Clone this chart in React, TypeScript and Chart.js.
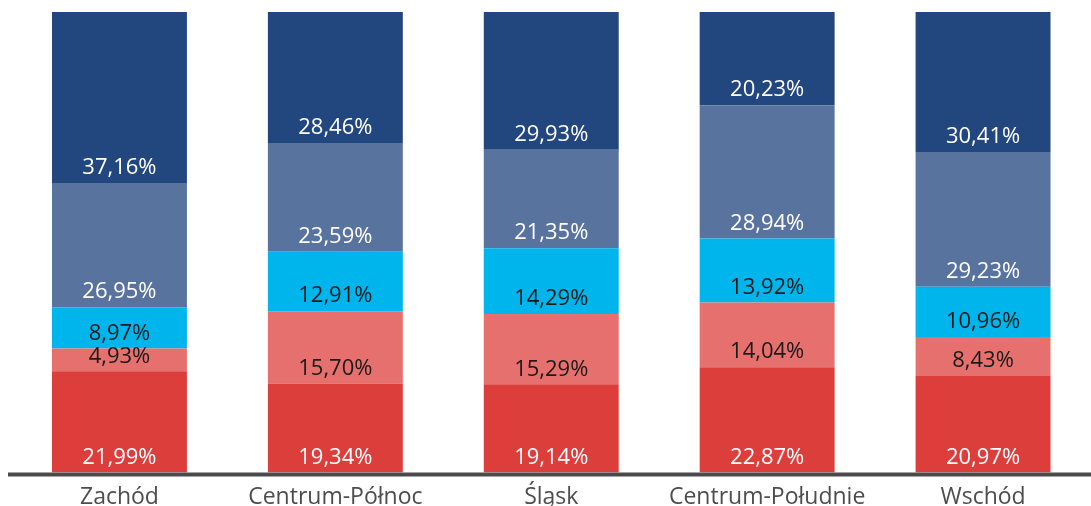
import React, { useEffect, useRef } from "react";
import { Chart, registerables } from "chart.js";

Chart.register(...registerables);

const categories = ["Zachód", "Centrum-Północ", "Śląsk", "Centrum-Południe", "Wschód"];
const seriesRed = [21.99, 19.34, 19.14, 22.87, 20.97];
const seriesPink = [4.93, 15.7, 15.29, 14.04, 8.43];
const seriesCyan = [8.97, 12.91, 14.29, 13.92, 10.96];
const seriesSlate = [26.95, 23.59, 21.35, 28.94, 29.23];
const seriesNavy = [37.16, 28.46, 29.93, 20.23, 30.41];

const seriesColors = ["#DC3E3C", "#E5706D", "#00B5EC", "#58739E", "#22467E"];
const labelColors = ["#ffffff", "#1a1a1a", "#1a1a1a", "#ffffff", "#ffffff"];
const FONT = "'Open Sans', sans-serif";

const fmt = (v: number) => v.toFixed(2).replace(".", ",") + "%";

const overlayPlugin = {
  id: "overlay",
  afterDatasetsDraw(chart: any) {
    const ctx = chart.ctx;
    const area = chart.chartArea;
    ctx.save();
    // axis line
    ctx.fillStyle = "#4a4a4a";
    ctx.fillRect(8, area.bottom, chart.width - 8, 4);
    // segment labels
    ctx.font = `22px ${FONT}`;
    ctx.textAlign = "center";
    ctx.textBaseline = "middle";
    chart.data.datasets.forEach((ds: any, di: number) => {
      const meta = chart.getDatasetMeta(di);
      meta.data.forEach((el: any, i: number) => {
        ctx.fillStyle = labelColors[di];
        ctx.fillText(fmt(ds.data[i]), el.x, el.base - 15);
      });
    });
    // category labels
    ctx.font = `23px ${FONT}`;
    ctx.fillStyle = "#4d4d4d";
    const xs = chart.scales.x;
    categories.forEach((c, i) => {
      ctx.fillText(c, xs.getPixelForValue(i), 497);
    });
    ctx.restore();
  },
};

export default function App() {
  const ref = useRef<HTMLCanvasElement>(null);
  useEffect(() => {
    if (!ref.current) return;
    const all = [seriesRed, seriesPink, seriesCyan, seriesSlate, seriesNavy];
    const chart = new Chart(ref.current, {
      type: "bar",
      data: {
        labels: categories,
        datasets: all.map((d, i) => ({
          data: d,
          backgroundColor: seriesColors[i],
          borderWidth: 0,
          categoryPercentage: 1,
          barPercentage: 0.625,
        })),
      },
      options: {
        animation: false,
        responsive: false,
        layout: { padding: { left: 11.5, right: 0, top: 12, bottom: 33.5 } },
        plugins: { legend: { display: false }, tooltip: { enabled: false } },
        scales: {
          x: { stacked: true, display: false },
          y: { stacked: true, display: false, min: 0, max: 100 },
        },
      },
      plugins: [overlayPlugin],
    });
    return () => chart.destroy();
  }, []);
  return (
    <div style={{ position: "fixed", left: 0, top: 0, width: 1091, height: 506, background: "#fff" }}>
      <canvas ref={ref} width={1091} height={506} style={{ display: "block" }} />
    </div>
  );
}
